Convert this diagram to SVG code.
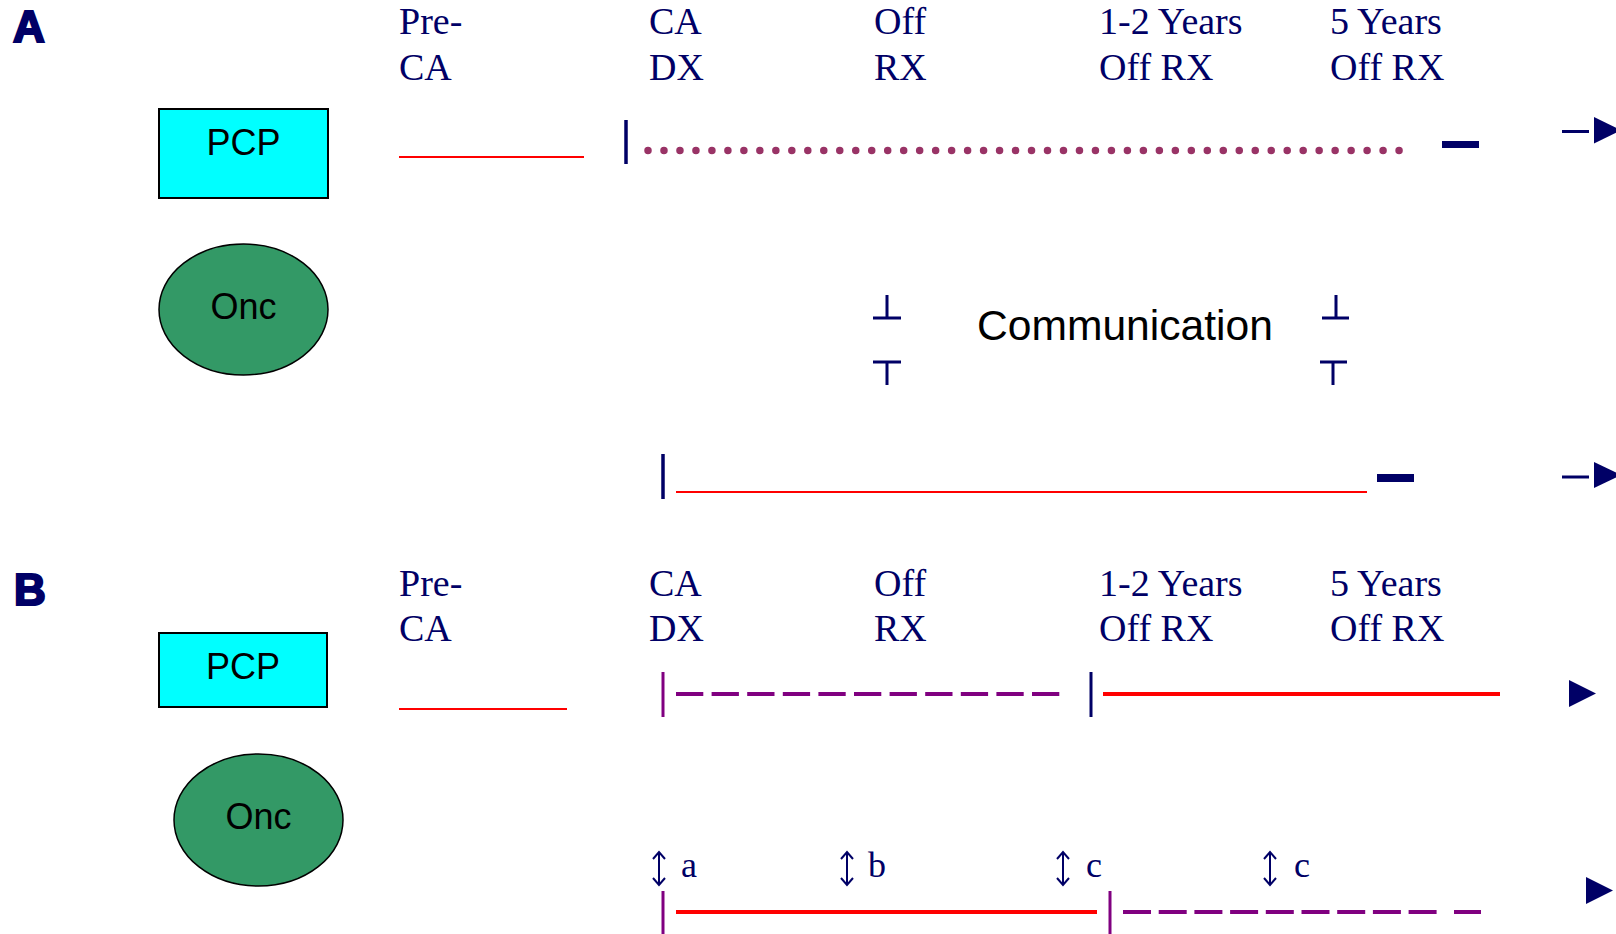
<svg xmlns="http://www.w3.org/2000/svg" width="1616" height="934" viewBox="0 0 1616 934">
<style>
.hdr{font-family:"Liberation Serif","Times New Roman",serif;font-size:38px;fill:#000066}
.lbl{font-family:"Liberation Sans",Arial,sans-serif;font-size:36px;fill:#000000;text-anchor:middle}
.panel{font-family:"Liberation Sans",Arial,sans-serif;font-weight:bold;font-size:44px;fill:#000066;stroke:#000066;stroke-width:2.2}
.sm{font-family:"Liberation Serif","Times New Roman",serif;font-size:36px;fill:#000066}
.box{fill:#00FFFF;stroke:#000000;stroke-width:2}
.ell{fill:#339966;stroke:#000000;stroke-width:1.5}
.navy{stroke:#000066;fill:none}
.red{stroke:#FF0000;fill:none}
.purp{stroke:#800080;fill:none}
.tri{fill:#000066}
</style>
<g id="labels">
<text class="panel" x="13" y="42">A</text>
<text class="panel" x="14" y="605">B</text>
<text class="hdr" x="399" y="34">Pre-</text><text class="hdr" x="399" y="80">CA</text>
<text class="hdr" x="649" y="34">CA</text><text class="hdr" x="649" y="80">DX</text>
<text class="hdr" x="874" y="34">Off</text><text class="hdr" x="874" y="80">RX</text>
<text class="hdr" x="1099" y="34">1-2 Years</text><text class="hdr" x="1099" y="80">Off RX</text>
<text class="hdr" x="1330" y="34">5 Years</text><text class="hdr" x="1330" y="80">Off RX</text>
<text class="hdr" x="399" y="596">Pre-</text><text class="hdr" x="399" y="641">CA</text>
<text class="hdr" x="649" y="596">CA</text><text class="hdr" x="649" y="641">DX</text>
<text class="hdr" x="874" y="596">Off</text><text class="hdr" x="874" y="641">RX</text>
<text class="hdr" x="1099" y="596">1-2 Years</text><text class="hdr" x="1099" y="641">Off RX</text>
<text class="hdr" x="1330" y="596">5 Years</text><text class="hdr" x="1330" y="641">Off RX</text>
<text x="977" y="340" style="font-family:'Liberation Sans',Arial,sans-serif;font-size:42.6px;fill:#000000">Communication</text>
</g>
<g id="pcpA"><rect class="box" x="159" y="109" width="169" height="89"/><text class="lbl" x="243.5" y="155">PCP</text></g>
<g id="oncA"><ellipse class="ell" cx="243.5" cy="309.5" rx="84.5" ry="65.5"/><text class="lbl" x="243.5" y="319">Onc</text></g>
<g id="pcpB"><rect class="box" x="159" y="633" width="168" height="74"/><text class="lbl" x="243" y="679">PCP</text></g>
<g id="oncB"><ellipse class="ell" cx="258.5" cy="820" rx="84.5" ry="66"/><text class="lbl" x="258.5" y="829">Onc</text></g>
<g id="connectors">
<!-- A PCP row -->
<line class="red" x1="399" y1="157" x2="584" y2="157" stroke-width="2"/>
<line class="navy" x1="626" y1="120" x2="626" y2="164" stroke-width="3.5"/>
<line x1="648" y1="150.5" x2="1403" y2="150.5" stroke="#993366" stroke-width="7.5" stroke-linecap="round" stroke-dasharray="0 15.98"/>
<rect class="tri" x="1442" y="141" width="37" height="7"/>
<line class="navy" x1="1562" y1="131.5" x2="1589" y2="131.5" stroke-width="3"/>
<polygon class="tri" points="1594,117 1594,143.5 1621,130.3"/>
<!-- Communication markers -->
<path class="navy" stroke-width="3" d="M887,295 V318 M873,318 H901 M873,362 H901 M887,362 V385 M1336,295 V318 M1322,318 H1349 M1320,362 H1347 M1333,362 V385"/>
<!-- A Onc row -->
<line class="navy" x1="663" y1="454" x2="663" y2="499" stroke-width="3.5"/>
<line class="red" x1="676" y1="492" x2="1367" y2="492" stroke-width="2"/>
<rect class="tri" x="1377" y="474" width="37" height="8"/>
<line class="navy" x1="1562" y1="477" x2="1589" y2="477" stroke-width="3"/>
<polygon class="tri" points="1594,462 1594,488 1621,475"/>
<!-- B PCP row -->
<line class="red" x1="399" y1="709" x2="567" y2="709" stroke-width="2"/>
<line class="purp" x1="663" y1="672" x2="663" y2="717" stroke-width="3"/>
<line class="purp" x1="676" y1="694" x2="1059.5" y2="694" stroke-width="4" stroke-dasharray="27.3 8.3"/>
<line class="navy" x1="1091" y1="672" x2="1091" y2="717" stroke-width="3"/>
<line class="red" x1="1103" y1="694" x2="1500" y2="694" stroke-width="4"/>
<polygon class="tri" points="1569,680 1569,707 1596,693.5"/>
<!-- B Onc row -->
<path class="navy" stroke-width="2" d="M659,853 V885 M653,859 L659,852 L665,859 M653,878 L659,885 L665,878"/>
<path class="navy" stroke-width="2" d="M847,853 V885 M841,859 L847,852 L853,859 M841,878 L847,885 L853,878"/>
<path class="navy" stroke-width="2" d="M1063,853 V885 M1057,859 L1063,852 L1069,859 M1057,878 L1063,885 L1069,878"/>
<path class="navy" stroke-width="2" d="M1270,853 V885 M1264,859 L1270,852 L1276,859 M1264,878 L1270,885 L1276,878"/>
<line class="purp" x1="663" y1="891" x2="663" y2="934" stroke-width="3"/>
<line class="red" x1="676" y1="912" x2="1097" y2="912" stroke-width="4"/>
<line class="purp" x1="1110" y1="891" x2="1110" y2="934" stroke-width="3"/>
<line class="purp" x1="1123" y1="912" x2="1437" y2="912" stroke-width="4" stroke-dasharray="28 7.7"/>
<line class="purp" x1="1454" y1="912" x2="1481" y2="912" stroke-width="4"/>
<polygon class="tri" points="1586,877 1586,904 1613,890.5"/>
</g>
<g id="arrowlabels">
<text class="sm" x="681" y="877">a</text>
<text class="sm" x="868" y="877">b</text>
<text class="sm" x="1086" y="877">c</text>
<text class="sm" x="1294" y="877">c</text>
</g>
</svg>
